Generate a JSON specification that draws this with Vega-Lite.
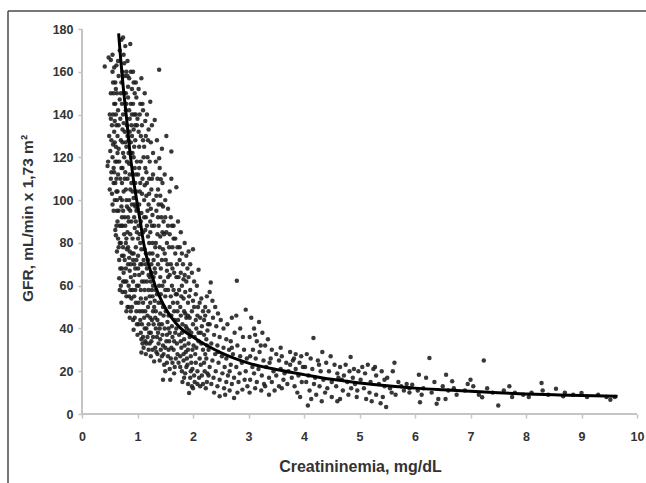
{
"$schema":"https://vega.github.io/schema/vega-lite/v6.json",
"width":638,"height":472,
"autosize":{"type":"none"},
"padding":{"left":8,"top":11,"right":0,"bottom":0},
"background":"white",
"config":{"view":{"stroke":null},"font":"Liberation Sans"},
"datasets":{
"pts":[
{"cr":0.41,"gfr":162.5},{"cr":0.48,"gfr":166.7},{"cr":0.52,"gfr":165.5},{"cr":0.55,"gfr":160},{"cr":0.57,"gfr":150},{"cr":0.52,"gfr":150},{"cr":0.6,"gfr":145},{"cr":0.56,"gfr":140},{"cr":0.5,"gfr":140},{"cr":0.62,"gfr":135},{"cr":0.58,"gfr":132},{"cr":0.53,"gfr":128},{"cr":0.61,"gfr":125},{"cr":0.47,"gfr":118},{"cr":0.46,"gfr":116},{"cr":0.55,"gfr":120},{"cr":0.6,"gfr":118},{"cr":0.52,"gfr":110},{"cr":0.57,"gfr":108},{"cr":0.5,"gfr":105},{"cr":0.54,"gfr":103},{"cr":0.62,"gfr":110},{"cr":0.59,"gfr":100},{"cr":0.63,"gfr":95},{"cr":0.6,"gfr":86},{"cr":0.61,"gfr":83.6},{"cr":0.64,"gfr":90},{"cr":0.66,"gfr":78},{"cr":0.67,"gfr":72},{"cr":0.67,"gfr":63.5},{"cr":0.69,"gfr":68},{"cr":0.64,"gfr":104},{"cr":0.65,"gfr":112},{"cr":0.66,"gfr":124},{"cr":0.64,"gfr":130},{"cr":0.65,"gfr":142},{"cr":0.63,"gfr":150},{"cr":0.66,"gfr":158},{"cr":0.62,"gfr":163},{"cr":0.68,"gfr":170},{"cr":0.71,"gfr":175},{"cr":0.74,"gfr":176},{"cr":0.6,"gfr":155},{"cr":0.58,"gfr":162},{"cr":0.55,"gfr":168},{"cr":0.53,"gfr":113},{"cr":0.57,"gfr":95},{"cr":0.69,"gfr":101},{"cr":0.68,"gfr":88},{"cr":0.7,"gfr":80},{"cr":0.72,"gfr":74},{"cr":0.7,"gfr":60},{"cr":0.73,"gfr":57},{"cr":0.56,"gfr":126},{"cr":0.59,"gfr":137},{"cr":0.51,"gfr":123},{"cr":0.66,"gfr":135},{"cr":0.63,"gfr":118},{"cr":0.68,"gfr":147},{"cr":0.71,"gfr":155},
{"cr":0.58,"gfr":145},{"cr":0.61,"gfr":152},{"cr":0.54,"gfr":135},{"cr":0.57,"gfr":115},{"cr":0.6,"gfr":108},{"cr":0.55,"gfr":98},{"cr":0.63,"gfr":100},{"cr":0.62,"gfr":88},{"cr":0.65,"gfr":82},{"cr":0.63,"gfr":76},{"cr":0.68,"gfr":80},{"cr":0.66,"gfr":95},{"cr":0.69,"gfr":110},{"cr":0.67,"gfr":118},{"cr":0.7,"gfr":128},{"cr":0.69,"gfr":138},{"cr":0.72,"gfr":145},{"cr":0.7,"gfr":150},{"cr":0.73,"gfr":160},{"cr":0.76,"gfr":164},{"cr":0.65,"gfr":165},{"cr":0.59,"gfr":127},{"cr":0.49,"gfr":130},{"cr":0.52,"gfr":138},{"cr":0.56,"gfr":155},{"cr":0.61,"gfr":140},{"cr":0.64,"gfr":122},{"cr":0.62,"gfr":104},{"cr":0.58,"gfr":113},{"cr":0.71,"gfr":88},{"cr":0.72,"gfr":100},{"cr":0.74,"gfr":95},{"cr":0.71,"gfr":115},{"cr":0.74,"gfr":122},{"cr":0.73,"gfr":133},{"cr":0.72,"gfr":68},{"cr":0.74,"gfr":62},{"cr":0.75,"gfr":74},{"cr":0.68,"gfr":58},{"cr":0.71,"gfr":52},
{"cr":0.75,"gfr":168},{"cr":0.78,"gfr":172},{"cr":0.87,"gfr":173},{"cr":0.82,"gfr":165},{"cr":0.8,"gfr":160},{"cr":0.77,"gfr":158},{"cr":0.85,"gfr":157},{"cr":0.9,"gfr":152},{"cr":0.95,"gfr":150},{"cr":0.92,"gfr":160},{"cr":0.98,"gfr":148},{"cr":0.76,"gfr":150},{"cr":0.83,"gfr":148},{"cr":0.88,"gfr":145},{"cr":0.79,"gfr":142},{"cr":0.74,"gfr":140},{"cr":0.86,"gfr":138},{"cr":0.94,"gfr":140},{"cr":0.99,"gfr":135},{"cr":0.81,"gfr":135},{"cr":0.77,"gfr":132},{"cr":0.9,"gfr":130},{"cr":0.84,"gfr":128},{"cr":0.96,"gfr":128},{"cr":0.73,"gfr":127},{"cr":0.8,"gfr":125},{"cr":0.88,"gfr":122},{"cr":0.93,"gfr":120},{"cr":0.76,"gfr":120},{"cr":0.85,"gfr":117},{"cr":0.99,"gfr":118},{"cr":0.78,"gfr":113},{"cr":0.91,"gfr":112},{"cr":0.82,"gfr":110},{"cr":0.72,"gfr":108},{"cr":0.96,"gfr":108},{"cr":0.87,"gfr":105},{"cr":0.75,"gfr":104},{"cr":0.8,"gfr":100},{"cr":0.93,"gfr":101},{"cr":0.71,"gfr":97},{"cr":0.84,"gfr":96},{"cr":0.98,"gfr":95},{"cr":0.77,"gfr":92},{"cr":0.89,"gfr":90},{"cr":0.73,"gfr":88},{"cr":0.95,"gfr":87},{"cr":0.82,"gfr":85},{"cr":0.79,"gfr":80},{"cr":0.91,"gfr":82},{"cr":0.74,"gfr":78},{"cr":0.86,"gfr":76},{"cr":0.97,"gfr":78},{"cr":0.77,"gfr":72},{"cr":0.83,"gfr":70},{"cr":0.92,"gfr":72},{"cr":0.75,"gfr":66},{"cr":0.88,"gfr":64},{"cr":0.8,"gfr":62},{"cr":0.95,"gfr":65},{"cr":0.78,"gfr":57},{"cr":0.85,"gfr":55},{"cr":0.91,"gfr":58},{"cr":0.82,"gfr":50},{"cr":0.88,"gfr":48},{"cr":0.93,"gfr":39.4},{"cr":0.97,"gfr":52},{"cr":0.99,"gfr":60},{"cr":0.79,"gfr":68},{"cr":0.84,"gfr":90},{"cr":0.76,"gfr":84},{"cr":0.72,"gfr":92},{"cr":0.9,"gfr":98},{"cr":0.94,"gfr":92},{"cr":0.86,"gfr":112},{"cr":0.81,"gfr":118},{"cr":0.73,"gfr":115},{"cr":0.78,"gfr":127},{"cr":0.94,"gfr":125},{"cr":0.89,"gfr":135},{"cr":0.97,"gfr":140},{"cr":0.83,"gfr":153},{"cr":0.79,"gfr":150},{"cr":0.92,"gfr":145},{"cr":0.75,"gfr":136},{"cr":0.98,"gfr":104},{"cr":0.96,"gfr":97},{"cr":0.87,"gfr":84},{"cr":0.81,"gfr":77},{"cr":0.93,"gfr":75},{"cr":0.86,"gfr":67},{"cr":0.9,"gfr":50},{"cr":0.95,"gfr":45},
{"cr":0.77,"gfr":110},{"cr":0.79,"gfr":105},{"cr":0.81,"gfr":97},{"cr":0.83,"gfr":92},{"cr":0.85,"gfr":100},{"cr":0.87,"gfr":95},{"cr":0.89,"gfr":108},{"cr":0.91,"gfr":104},{"cr":0.84,"gfr":122},{"cr":0.82,"gfr":130},{"cr":0.86,"gfr":132},{"cr":0.88,"gfr":127},{"cr":0.91,"gfr":122},{"cr":0.95,"gfr":115},{"cr":0.97,"gfr":112},{"cr":0.8,"gfr":145},{"cr":0.85,"gfr":142},{"cr":0.9,"gfr":140},{"cr":0.93,"gfr":133},{"cr":0.96,"gfr":135},{"cr":0.78,"gfr":88},{"cr":0.8,"gfr":82},{"cr":0.83,"gfr":78},{"cr":0.85,"gfr":73},{"cr":0.88,"gfr":70},{"cr":0.9,"gfr":75},{"cr":0.94,"gfr":70},{"cr":0.96,"gfr":68},{"cr":0.98,"gfr":72},{"cr":0.99,"gfr":85},{"cr":0.97,"gfr":90},{"cr":0.95,"gfr":98},{"cr":0.77,"gfr":62},{"cr":0.8,"gfr":55},{"cr":0.84,"gfr":60},{"cr":0.87,"gfr":58},{"cr":0.89,"gfr":54},{"cr":0.92,"gfr":62},{"cr":0.94,"gfr":55},{"cr":0.96,"gfr":58},{"cr":0.98,"gfr":48},{"cr":0.86,"gfr":45},{"cr":0.84,"gfr":50},{"cr":0.8,"gfr":48},{"cr":0.92,"gfr":44},{"cr":0.99,"gfr":42},{"cr":0.88,"gfr":160},{"cr":0.82,"gfr":158},{"cr":0.97,"gfr":155},{"cr":0.93,"gfr":155},
{"cr":1.07,"gfr":157},{"cr":1.02,"gfr":152},{"cr":1.05,"gfr":145},{"cr":1.1,"gfr":142},{"cr":1.0,"gfr":138},{"cr":1.08,"gfr":135},{"cr":1.15,"gfr":130},{"cr":1.2,"gfr":133},{"cr":1.26,"gfr":135},{"cr":1.31,"gfr":137.5},{"cr":1.12,"gfr":125},{"cr":1.03,"gfr":125},{"cr":1.18,"gfr":120},{"cr":1.24,"gfr":127},{"cr":1.06,"gfr":118},{"cr":1.14,"gfr":115},{"cr":1.22,"gfr":118},{"cr":1.28,"gfr":112},{"cr":1.01,"gfr":112},{"cr":1.09,"gfr":110},{"cr":1.17,"gfr":108},{"cr":1.25,"gfr":105},{"cr":1.04,"gfr":104},{"cr":1.12,"gfr":100},{"cr":1.2,"gfr":98},{"cr":1.29,"gfr":100},{"cr":1.0,"gfr":96},{"cr":1.07,"gfr":94},{"cr":1.15,"gfr":92},{"cr":1.23,"gfr":90},{"cr":1.3,"gfr":88},{"cr":1.02,"gfr":88},{"cr":1.1,"gfr":85},{"cr":1.19,"gfr":83},{"cr":1.27,"gfr":80},{"cr":1.05,"gfr":80},{"cr":1.13,"gfr":77},{"cr":1.22,"gfr":75},{"cr":1.29,"gfr":72},{"cr":1.01,"gfr":74},{"cr":1.08,"gfr":70},{"cr":1.17,"gfr":68},{"cr":1.25,"gfr":66},{"cr":1.03,"gfr":65},{"cr":1.12,"gfr":62},{"cr":1.2,"gfr":58},{"cr":1.28,"gfr":60},{"cr":1.06,"gfr":58},{"cr":1.15,"gfr":54},{"cr":1.23,"gfr":52},{"cr":1.3,"gfr":50},{"cr":1.02,"gfr":52},{"cr":1.09,"gfr":48},{"cr":1.18,"gfr":46},{"cr":1.26,"gfr":44},{"cr":1.05,"gfr":44},{"cr":1.13,"gfr":40},{"cr":1.21,"gfr":38},{"cr":1.29,"gfr":42},{"cr":1.0,"gfr":37},{"cr":1.07,"gfr":35},{"cr":1.16,"gfr":33},{"cr":1.25,"gfr":34},{"cr":1.07,"gfr":28.8},{"cr":1.3,"gfr":24.6},{"cr":1.2,"gfr":30},{"cr":1.11,"gfr":31},{"cr":1.27,"gfr":55},{"cr":1.14,"gfr":86},{"cr":1.24,"gfr":96},{"cr":1.05,"gfr":108},{"cr":1.16,"gfr":102},{"cr":1.21,"gfr":110},{"cr":1.28,"gfr":122},{"cr":1.1,"gfr":128},{"cr":1.17,"gfr":140},{"cr":1.23,"gfr":146},{"cr":1.13,"gfr":150},{"cr":1.02,"gfr":132},{"cr":1.08,"gfr":62},{"cr":1.19,"gfr":72},{"cr":1.26,"gfr":88},{"cr":1.22,"gfr":64},{"cr":1.01,"gfr":82},{"cr":1.15,"gfr":75},{"cr":1.27,"gfr":93},
{"cr":1.04,"gfr":140},{"cr":1.09,"gfr":145},{"cr":1.14,"gfr":137},{"cr":1.19,"gfr":128},{"cr":1.06,"gfr":130},{"cr":1.11,"gfr":120},{"cr":1.16,"gfr":113},{"cr":1.21,"gfr":103},{"cr":1.26,"gfr":110},{"cr":1.03,"gfr":115},{"cr":1.08,"gfr":103},{"cr":1.13,"gfr":107},{"cr":1.18,"gfr":95},{"cr":1.23,"gfr":85},{"cr":1.27,"gfr":75},{"cr":1.32,"gfr":78},{"cr":1.03,"gfr":98},{"cr":1.06,"gfr":90},{"cr":1.12,"gfr":92},{"cr":1.17,"gfr":88},{"cr":1.21,"gfr":80},{"cr":1.25,"gfr":70},{"cr":1.31,"gfr":68},{"cr":1.04,"gfr":84},{"cr":1.07,"gfr":77},{"cr":1.11,"gfr":72},{"cr":1.15,"gfr":70},{"cr":1.2,"gfr":65},{"cr":1.24,"gfr":62},{"cr":1.29,"gfr":64},{"cr":1.33,"gfr":58},{"cr":1.01,"gfr":68},{"cr":1.05,"gfr":70},{"cr":1.09,"gfr":66},{"cr":1.13,"gfr":58},{"cr":1.17,"gfr":62},{"cr":1.22,"gfr":55},{"cr":1.26,"gfr":58},{"cr":1.31,"gfr":53},{"cr":1.02,"gfr":60},{"cr":1.06,"gfr":54},{"cr":1.1,"gfr":52},{"cr":1.14,"gfr":48},{"cr":1.19,"gfr":50},{"cr":1.23,"gfr":45},{"cr":1.28,"gfr":48},{"cr":1.32,"gfr":45},{"cr":1.04,"gfr":48},{"cr":1.08,"gfr":42},{"cr":1.12,"gfr":45},{"cr":1.16,"gfr":40},{"cr":1.2,"gfr":42},{"cr":1.24,"gfr":38},{"cr":1.28,"gfr":36},{"cr":1.33,"gfr":40},{"cr":1.02,"gfr":42},{"cr":1.06,"gfr":38},{"cr":1.1,"gfr":36},{"cr":1.14,"gfr":34},{"cr":1.18,"gfr":36},{"cr":1.22,"gfr":33},{"cr":1.27,"gfr":30},{"cr":1.32,"gfr":31},{"cr":1.09,"gfr":33},{"cr":1.15,"gfr":28},{"cr":1.24,"gfr":27},{"cr":1.34,"gfr":29},
{"cr":1.39,"gfr":161},{"cr":1.39,"gfr":119.6},{"cr":1.42,"gfr":109.8},{"cr":1.61,"gfr":122.7},{"cr":1.7,"gfr":106},{"cr":1.35,"gfr":128},{"cr":1.4,"gfr":115},{"cr":1.33,"gfr":118},{"cr":1.45,"gfr":108},{"cr":1.37,"gfr":105},{"cr":1.5,"gfr":100},{"cr":1.43,"gfr":98},{"cr":1.55,"gfr":96},{"cr":1.34,"gfr":95},{"cr":1.6,"gfr":92},{"cr":1.47,"gfr":90},{"cr":1.38,"gfr":88},{"cr":1.62,"gfr":88},{"cr":1.52,"gfr":85},{"cr":1.41,"gfr":83},{"cr":1.65,"gfr":82},{"cr":1.33,"gfr":80},{"cr":1.57,"gfr":78},{"cr":1.46,"gfr":77},{"cr":1.68,"gfr":75},{"cr":1.36,"gfr":74},{"cr":1.51,"gfr":72},{"cr":1.6,"gfr":70},{"cr":1.42,"gfr":68},{"cr":1.66,"gfr":66},{"cr":1.32,"gfr":66},{"cr":1.55,"gfr":64},{"cr":1.48,"gfr":62},{"cr":1.39,"gfr":60},{"cr":1.62,"gfr":60},{"cr":1.69,"gfr":56},{"cr":1.35,"gfr":56},{"cr":1.5,"gfr":55},{"cr":1.43,"gfr":52},{"cr":1.58,"gfr":50},{"cr":1.66,"gfr":48},{"cr":1.33,"gfr":48},{"cr":1.47,"gfr":46},{"cr":1.54,"gfr":43},{"cr":1.39,"gfr":42},{"cr":1.62,"gfr":41},{"cr":1.68,"gfr":38},{"cr":1.45,"gfr":37},{"cr":1.35,"gfr":36},{"cr":1.57,"gfr":34},{"cr":1.5,"gfr":31},{"cr":1.42,"gfr":30},{"cr":1.65,"gfr":30},{"cr":1.36,"gfr":28},{"cr":1.6,"gfr":26},{"cr":1.53,"gfr":24},{"cr":1.48,"gfr":23},{"cr":1.44,"gfr":27},{"cr":1.67,"gfr":22},{"cr":1.59,"gfr":16},{"cr":1.38,"gfr":33},{"cr":1.56,"gfr":40},{"cr":1.64,"gfr":52},{"cr":1.41,"gfr":47},{"cr":1.53,"gfr":67},{"cr":1.45,"gfr":85},{"cr":1.37,"gfr":92},{"cr":1.58,"gfr":104},{"cr":1.49,"gfr":112},{"cr":1.65,"gfr":88},{"cr":1.34,"gfr":102},{"cr":1.44,"gfr":124},{"cr":1.52,"gfr":130},{"cr":1.61,"gfr":110},
{"cr":1.36,"gfr":110},{"cr":1.41,"gfr":102},{"cr":1.46,"gfr":97},{"cr":1.5,"gfr":92},{"cr":1.55,"gfr":88},{"cr":1.38,"gfr":98},{"cr":1.43,"gfr":92},{"cr":1.48,"gfr":84},{"cr":1.53,"gfr":80},{"cr":1.58,"gfr":84},{"cr":1.63,"gfr":78},{"cr":1.68,"gfr":82},{"cr":1.36,"gfr":84},{"cr":1.4,"gfr":78},{"cr":1.44,"gfr":72},{"cr":1.49,"gfr":75},{"cr":1.54,"gfr":70},{"cr":1.58,"gfr":65},{"cr":1.63,"gfr":68},{"cr":1.7,"gfr":64},{"cr":1.37,"gfr":70},{"cr":1.41,"gfr":64},{"cr":1.45,"gfr":60},{"cr":1.5,"gfr":58},{"cr":1.55,"gfr":58},{"cr":1.6,"gfr":55},{"cr":1.65,"gfr":58},{"cr":1.72,"gfr":52},{"cr":1.38,"gfr":52},{"cr":1.42,"gfr":56},{"cr":1.46,"gfr":50},{"cr":1.51,"gfr":48},{"cr":1.56,"gfr":46},{"cr":1.61,"gfr":46},{"cr":1.67,"gfr":44},{"cr":1.72,"gfr":48},{"cr":1.36,"gfr":44},{"cr":1.4,"gfr":40},{"cr":1.44,"gfr":42},{"cr":1.49,"gfr":40},{"cr":1.53,"gfr":37},{"cr":1.58,"gfr":38},{"cr":1.63,"gfr":36},{"cr":1.7,"gfr":40},{"cr":1.37,"gfr":38},{"cr":1.41,"gfr":35},{"cr":1.46,"gfr":32},{"cr":1.52,"gfr":34},{"cr":1.56,"gfr":30},{"cr":1.61,"gfr":31},{"cr":1.66,"gfr":34},{"cr":1.71,"gfr":33},{"cr":1.4,"gfr":25},{"cr":1.47,"gfr":28},{"cr":1.55,"gfr":27},{"cr":1.63,"gfr":24},{"cr":1.69,"gfr":26},{"cr":1.5,"gfr":20},{"cr":1.58,"gfr":21},{"cr":1.66,"gfr":19},{"cr":1.74,"gfr":24},{"cr":1.46,"gfr":16},
{"cr":1.73,"gfr":90},{"cr":1.78,"gfr":85},{"cr":1.72,"gfr":78},{"cr":1.85,"gfr":80},{"cr":1.92,"gfr":76},{"cr":2.0,"gfr":77},{"cr":1.76,"gfr":72},{"cr":1.82,"gfr":70},{"cr":1.9,"gfr":68},{"cr":1.98,"gfr":66},{"cr":2.1,"gfr":67.4},{"cr":1.74,"gfr":64},{"cr":1.8,"gfr":60},{"cr":1.88,"gfr":62},{"cr":1.95,"gfr":58},{"cr":2.05,"gfr":56},{"cr":2.15,"gfr":54},{"cr":1.71,"gfr":56},{"cr":1.83,"gfr":54},{"cr":1.91,"gfr":52},{"cr":2.02,"gfr":50},{"cr":2.12,"gfr":52},{"cr":2.18,"gfr":48},{"cr":1.77,"gfr":50},{"cr":1.86,"gfr":47},{"cr":1.94,"gfr":45},{"cr":2.08,"gfr":46},{"cr":2.2,"gfr":44},{"cr":1.73,"gfr":44},{"cr":1.81,"gfr":42},{"cr":1.89,"gfr":40},{"cr":1.97,"gfr":38},{"cr":2.06,"gfr":40},{"cr":2.14,"gfr":38},{"cr":1.75,"gfr":37},{"cr":1.84,"gfr":35},{"cr":1.92,"gfr":33},{"cr":2.01,"gfr":32},{"cr":2.1,"gfr":34},{"cr":2.18,"gfr":30},{"cr":1.79,"gfr":31},{"cr":1.87,"gfr":29},{"cr":1.96,"gfr":27},{"cr":2.04,"gfr":28},{"cr":2.12,"gfr":26},{"cr":2.2,"gfr":24},{"cr":1.72,"gfr":28},{"cr":1.83,"gfr":25},{"cr":1.9,"gfr":23},{"cr":1.99,"gfr":21},{"cr":2.08,"gfr":20},{"cr":2.16,"gfr":18},{"cr":1.77,"gfr":22},{"cr":1.86,"gfr":19},{"cr":1.95,"gfr":17},{"cr":2.03,"gfr":15},{"cr":2.13,"gfr":13},{"cr":1.93,"gfr":9.8},{"cr":2.0,"gfr":12},{"cr":2.18,"gfr":14},{"cr":1.81,"gfr":15},{"cr":1.88,"gfr":45},{"cr":2.0,"gfr":42},{"cr":1.94,"gfr":36},{"cr":2.16,"gfr":41},{"cr":1.75,"gfr":58},{"cr":1.85,"gfr":65},{"cr":2.07,"gfr":60},{"cr":1.71,"gfr":70},
{"cr":1.76,"gfr":78},{"cr":1.8,"gfr":75},{"cr":1.88,"gfr":74},{"cr":1.95,"gfr":70},{"cr":1.78,"gfr":66},{"cr":1.83,"gfr":63},{"cr":1.92,"gfr":64},{"cr":2.02,"gfr":62},{"cr":1.79,"gfr":55},{"cr":1.86,"gfr":57},{"cr":1.93,"gfr":55},{"cr":2.0,"gfr":53},{"cr":2.09,"gfr":50},{"cr":1.78,"gfr":46},{"cr":1.84,"gfr":48},{"cr":1.91,"gfr":46},{"cr":1.98,"gfr":48},{"cr":2.05,"gfr":44},{"cr":2.13,"gfr":45},{"cr":2.22,"gfr":50},{"cr":1.8,"gfr":38},{"cr":1.87,"gfr":41},{"cr":1.93,"gfr":39},{"cr":2.03,"gfr":36},{"cr":2.1,"gfr":38},{"cr":2.2,"gfr":37},{"cr":2.27,"gfr":42},{"cr":1.78,"gfr":34},{"cr":1.85,"gfr":32},{"cr":1.91,"gfr":30},{"cr":1.99,"gfr":30},{"cr":2.06,"gfr":31},{"cr":2.15,"gfr":33},{"cr":2.25,"gfr":32},{"cr":1.77,"gfr":27},{"cr":1.83,"gfr":28},{"cr":1.89,"gfr":26},{"cr":1.97,"gfr":24},{"cr":2.05,"gfr":24},{"cr":2.14,"gfr":23},{"cr":2.24,"gfr":26},{"cr":1.8,"gfr":20},{"cr":1.88,"gfr":22},{"cr":1.96,"gfr":20},{"cr":2.02,"gfr":18},{"cr":2.11,"gfr":17},{"cr":2.21,"gfr":20},{"cr":2.28,"gfr":18},{"cr":1.84,"gfr":17},{"cr":1.91,"gfr":14},{"cr":2.08,"gfr":14},{"cr":2.25,"gfr":15},{"cr":1.98,"gfr":13},
{"cr":2.32,"gfr":61.5},{"cr":2.3,"gfr":57},{"cr":2.25,"gfr":55},{"cr":2.35,"gfr":53},{"cr":2.4,"gfr":50},{"cr":2.28,"gfr":48},{"cr":2.45,"gfr":47},{"cr":2.22,"gfr":46},{"cr":2.36,"gfr":45},{"cr":2.5,"gfr":44},{"cr":2.3,"gfr":42},{"cr":2.42,"gfr":41},{"cr":2.55,"gfr":40},{"cr":2.26,"gfr":39},{"cr":2.62,"gfr":42},{"cr":2.7,"gfr":45},{"cr":2.79,"gfr":62.3},{"cr":2.78,"gfr":46},{"cr":2.95,"gfr":48.8},{"cr":2.85,"gfr":40},{"cr":2.75,"gfr":38},{"cr":2.38,"gfr":37},{"cr":2.48,"gfr":36},{"cr":2.6,"gfr":35},{"cr":2.68,"gfr":34},{"cr":2.9,"gfr":36},{"cr":2.24,"gfr":35},{"cr":2.33,"gfr":33},{"cr":2.44,"gfr":32},{"cr":2.55,"gfr":31},{"cr":2.65,"gfr":30},{"cr":2.8,"gfr":32},{"cr":2.92,"gfr":30},{"cr":2.28,"gfr":30},{"cr":2.4,"gfr":28},{"cr":2.52,"gfr":27},{"cr":2.6,"gfr":26},{"cr":2.72,"gfr":28},{"cr":2.85,"gfr":27},{"cr":2.97,"gfr":26},{"cr":2.22,"gfr":28},{"cr":2.35,"gfr":25},{"cr":2.46,"gfr":24},{"cr":2.57,"gfr":22},{"cr":2.68,"gfr":23},{"cr":2.78,"gfr":22},{"cr":2.88,"gfr":24},{"cr":2.3,"gfr":22},{"cr":2.41,"gfr":20},{"cr":2.53,"gfr":19},{"cr":2.63,"gfr":18},{"cr":2.74,"gfr":17},{"cr":2.84,"gfr":19},{"cr":2.95,"gfr":20},{"cr":2.26,"gfr":19},{"cr":2.37,"gfr":17},{"cr":2.48,"gfr":16},{"cr":2.6,"gfr":15},{"cr":2.7,"gfr":14},{"cr":2.82,"gfr":15},{"cr":2.93,"gfr":16},{"cr":2.33,"gfr":14},{"cr":2.44,"gfr":13},{"cr":2.56,"gfr":12},{"cr":2.66,"gfr":11},{"cr":2.89,"gfr":11.4},{"cr":2.48,"gfr":8.3},{"cr":2.74,"gfr":7.5},{"cr":2.8,"gfr":10},{"cr":2.23,"gfr":12},{"cr":2.38,"gfr":10},{"cr":2.98,"gfr":13},{"cr":2.58,"gfr":9},{"cr":2.66,"gfr":20},{"cr":2.45,"gfr":29},{"cr":2.7,"gfr":31},
{"cr":3.19,"gfr":43},{"cr":3.05,"gfr":45},{"cr":3.1,"gfr":40},{"cr":3.25,"gfr":38},{"cr":3.02,"gfr":36},{"cr":3.15,"gfr":34},{"cr":3.35,"gfr":35},{"cr":3.3,"gfr":32},{"cr":3.08,"gfr":30},{"cr":3.2,"gfr":29},{"cr":3.42,"gfr":30},{"cr":3.5,"gfr":28},{"cr":3.6,"gfr":27},{"cr":3.75,"gfr":29},{"cr":3.85,"gfr":28},{"cr":3.95,"gfr":27},{"cr":3.03,"gfr":27},{"cr":3.13,"gfr":26},{"cr":3.27,"gfr":25},{"cr":3.38,"gfr":24},{"cr":3.55,"gfr":25},{"cr":3.68,"gfr":24},{"cr":3.8,"gfr":25},{"cr":3.92,"gfr":24},{"cr":3.07,"gfr":22},{"cr":3.18,"gfr":21},{"cr":3.32,"gfr":22},{"cr":3.45,"gfr":20},{"cr":3.58,"gfr":21},{"cr":3.72,"gfr":20},{"cr":3.85,"gfr":21},{"cr":3.98,"gfr":22},{"cr":3.1,"gfr":19},{"cr":3.24,"gfr":18},{"cr":3.37,"gfr":17},{"cr":3.5,"gfr":18},{"cr":3.63,"gfr":16},{"cr":3.78,"gfr":17},{"cr":3.9,"gfr":18},{"cr":3.03,"gfr":16},{"cr":3.15,"gfr":15},{"cr":3.28,"gfr":14},{"cr":3.42,"gfr":15},{"cr":3.55,"gfr":13},{"cr":3.7,"gfr":14},{"cr":3.83,"gfr":13},{"cr":3.96,"gfr":15},{"cr":3.12,"gfr":12},{"cr":3.23,"gfr":11},{"cr":3.37,"gfr":9},{"cr":3.47,"gfr":11},{"cr":3.6,"gfr":12},{"cr":3.88,"gfr":10},{"cr":3.93,"gfr":8},{"cr":3.02,"gfr":10},{"cr":3.3,"gfr":13},{"cr":3.65,"gfr":19},{"cr":3.4,"gfr":26},{"cr":3.75,"gfr":23},{"cr":3.22,"gfr":32},{"cr":3.12,"gfr":37},{"cr":3.58,"gfr":31},{"cr":3.82,"gfr":26},
{"cr":4.17,"gfr":35.5},{"cr":4.33,"gfr":29},{"cr":4.84,"gfr":26.6},{"cr":4.07,"gfr":4},{"cr":4.05,"gfr":28},{"cr":4.12,"gfr":26},{"cr":4.25,"gfr":25},{"cr":4.4,"gfr":24},{"cr":4.55,"gfr":23},{"cr":4.65,"gfr":22},{"cr":4.75,"gfr":23},{"cr":4.9,"gfr":21},{"cr":4.02,"gfr":22},{"cr":4.15,"gfr":21},{"cr":4.3,"gfr":20},{"cr":4.45,"gfr":20},{"cr":4.6,"gfr":19},{"cr":4.72,"gfr":18},{"cr":4.88,"gfr":17},{"cr":4.98,"gfr":20},{"cr":4.08,"gfr":18},{"cr":4.2,"gfr":17},{"cr":4.35,"gfr":16},{"cr":4.5,"gfr":15},{"cr":4.62,"gfr":17},{"cr":4.78,"gfr":15},{"cr":4.92,"gfr":14},{"cr":4.04,"gfr":15},{"cr":4.18,"gfr":14},{"cr":4.28,"gfr":13},{"cr":4.42,"gfr":12},{"cr":4.58,"gfr":13},{"cr":4.7,"gfr":11},{"cr":4.85,"gfr":12},{"cr":4.96,"gfr":11},{"cr":4.1,"gfr":11},{"cr":4.22,"gfr":9},{"cr":4.38,"gfr":10},{"cr":4.5,"gfr":8},{"cr":4.65,"gfr":7},{"cr":4.8,"gfr":9},{"cr":4.95,"gfr":8},{"cr":4.13,"gfr":7},{"cr":4.32,"gfr":6},{"cr":4.6,"gfr":6},{"cr":4.27,"gfr":23},{"cr":4.48,"gfr":27},{"cr":4.68,"gfr":16},{"cr":4.82,"gfr":20},
{"cr":5.63,"gfr":24},{"cr":5.48,"gfr":3.3},{"cr":5.05,"gfr":22},{"cr":5.15,"gfr":23},{"cr":5.25,"gfr":21},{"cr":5.4,"gfr":20},{"cr":5.6,"gfr":20},{"cr":5.1,"gfr":19},{"cr":5.3,"gfr":18},{"cr":5.5,"gfr":17},{"cr":5.7,"gfr":15},{"cr":5.85,"gfr":14},{"cr":5.95,"gfr":13.7},{"cr":5.02,"gfr":16},{"cr":5.2,"gfr":15},{"cr":5.35,"gfr":14},{"cr":5.45,"gfr":13},{"cr":5.55,"gfr":12},{"cr":5.75,"gfr":13},{"cr":5.9,"gfr":12},{"cr":5.08,"gfr":12},{"cr":5.18,"gfr":10},{"cr":5.3,"gfr":9},{"cr":5.42,"gfr":8},{"cr":5.58,"gfr":10},{"cr":5.8,"gfr":11},{"cr":5.12,"gfr":7},{"cr":5.22,"gfr":6},{"cr":5.38,"gfr":5},{"cr":5.65,"gfr":9},{"cr":5.9,"gfr":10},{"cr":5.28,"gfr":22},{"cr":5.45,"gfr":16},
{"cr":6.26,"gfr":26.2},{"cr":7.24,"gfr":25},{"cr":7.5,"gfr":4},{"cr":6.09,"gfr":5.5},{"cr":6.39,"gfr":4.8},{"cr":7.21,"gfr":7.8},{"cr":8.28,"gfr":14.5},{"cr":8.54,"gfr":11.8},{"cr":8.67,"gfr":8.3},{"cr":9.0,"gfr":9.8},{"cr":9.52,"gfr":6.7},{"cr":7.7,"gfr":13},{"cr":7.0,"gfr":16},{"cr":6.67,"gfr":15.3},{"cr":6.56,"gfr":18.4},{"cr":6.07,"gfr":18.4},{"cr":6.05,"gfr":11},{"cr":6.15,"gfr":12},{"cr":6.2,"gfr":17},{"cr":6.3,"gfr":10},{"cr":6.42,"gfr":7},{"cr":6.5,"gfr":13},{"cr":6.6,"gfr":11},{"cr":6.7,"gfr":12},{"cr":6.75,"gfr":9},{"cr":6.9,"gfr":11},{"cr":7.05,"gfr":13},{"cr":7.15,"gfr":9},{"cr":7.4,"gfr":10},{"cr":7.6,"gfr":11},{"cr":7.75,"gfr":8},{"cr":7.8,"gfr":10},{"cr":7.95,"gfr":9},{"cr":8.1,"gfr":10},{"cr":8.3,"gfr":11},{"cr":8.4,"gfr":9},{"cr":8.7,"gfr":10},{"cr":8.85,"gfr":9},{"cr":9.1,"gfr":8},{"cr":9.3,"gfr":9},{"cr":9.45,"gfr":8},{"cr":9.6,"gfr":8},{"cr":6.12,"gfr":9},{"cr":6.55,"gfr":7},{"cr":7.3,"gfr":12},{"cr":8.05,"gfr":8},{"cr":6.35,"gfr":15},{"cr":6.95,"gfr":14}
],
"fit":[
{"cr":0.66,"gfr":178},{"cr":0.7,"gfr":165},{"cr":0.75,"gfr":151},{"cr":0.8,"gfr":139},{"cr":0.87,"gfr":121},{"cr":0.93,"gfr":109},{"cr":0.985,"gfr":100},{"cr":1.05,"gfr":90},{"cr":1.11,"gfr":80},{"cr":1.2,"gfr":70},{"cr":1.32,"gfr":60},{"cr":1.45,"gfr":52},{"cr":1.6,"gfr":45.5},{"cr":1.78,"gfr":40},{"cr":2.0,"gfr":36},{"cr":2.25,"gfr":32},{"cr":2.5,"gfr":28.7},{"cr":2.75,"gfr":26},{"cr":3.0,"gfr":23.8},{"cr":3.5,"gfr":20.8},{"cr":4.0,"gfr":18.4},{"cr":4.5,"gfr":16.2},{"cr":5.0,"gfr":14.5},{"cr":5.5,"gfr":13.2},{"cr":6.0,"gfr":12.1},{"cr":6.5,"gfr":11.3},{"cr":7.0,"gfr":10.6},{"cr":7.5,"gfr":9.9},{"cr":8.0,"gfr":9.4},{"cr":8.5,"gfr":9.0},{"cr":9.0,"gfr":8.6},{"cr":9.65,"gfr":8.3}
]
},
"layer":[
{"data":{"values":[{}]},"mark":{"type":"rule","color":"#4a4a4a","strokeWidth":1.5},
 "encoding":{"x":{"datum":-1.3333,"type":"quantitative"},"y":{"datum":-32.26,"type":"quantitative"},"y2":{"datum":188.42}}},
{"data":{"values":[{}]},"mark":{"type":"rule","color":"#4a4a4a","strokeWidth":1.5},
 "encoding":{"x":{"datum":-1.3333,"type":"quantitative"},"x2":{"datum":10.162},"y":{"datum":188.42,"type":"quantitative"}}},
{"data":{"values":[{}]},"mark":{"type":"rule","color":"#c4c4c4","strokeWidth":2},
 "encoding":{"x":{"datum":0,"type":"quantitative"},"x2":{"datum":10},"y":{"datum":0,"type":"quantitative"}}},
{"data":{"values":[{}]},"mark":{"type":"rule","color":"#c4c4c4","strokeWidth":2},
 "encoding":{"x":{"datum":0,"type":"quantitative"},"y":{"datum":0,"type":"quantitative"},"y2":{"datum":180}}},
{"data":{"name":"pts"},"mark":{"type":"circle","size":20,"color":"#1c1c1c","opacity":0.88},
 "encoding":{
  "x":{"field":"cr","type":"quantitative","scale":{"domain":[-1.3333,10.162],"nice":false,"zero":false},
   "axis":{"title":"Creatininemia, mg/dL","values":[0,1,2,3,4,5,6,7,8,9,10],"offset":-69,"domain":false,"grid":false,"tickColor":"#c4c4c4","tickWidth":1.5,"tickSize":4,"labelPadding":12,"labelFont":"Liberation Sans","labelFontSize":12.5,"labelFontWeight":"bold","labelColor":"#333333","titleFont":"Liberation Sans","titleFontSize":16,"titleFontWeight":"bold","titleColor":"#333333","titlePadding":16,"titleX":352}},
  "y":{"field":"gfr","type":"quantitative","scale":{"domain":[-32.26,188.42],"nice":false,"zero":false},
   "axis":{"title":"GFR, mL/min x 1,73 m²","values":[0,20,40,60,80,100,120,140,160,180],"offset":-74,"domain":false,"grid":false,"tickColor":"#c4c4c4","tickWidth":1.5,"tickSize":4,"labelPadding":5,"labelFont":"Liberation Sans","labelFontSize":12.5,"labelFontWeight":"bold","labelColor":"#333333","titleFont":"Liberation Sans","titleFontSize":15.5,"titleFontWeight":"bold","titleColor":"#333333","titlePadding":17,"titleY":207}}
 }},
{"data":{"name":"fit"},"mark":{"type":"line","color":"#000000","strokeWidth":3,"interpolate":"monotone"},
 "encoding":{"x":{"field":"cr","type":"quantitative"},"y":{"field":"gfr","type":"quantitative"}}}
]
}
